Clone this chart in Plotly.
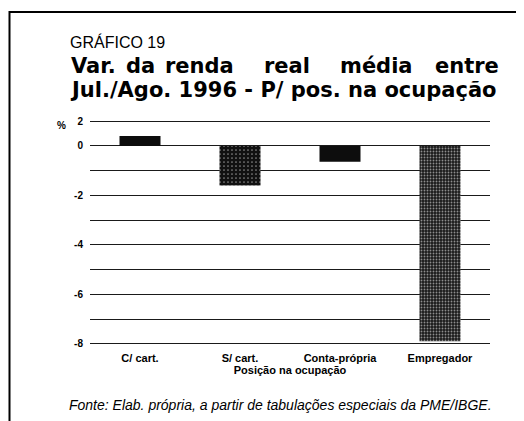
import plotly.graph_objects as go

# dados (var. % da renda real média, Jul./Ago. 1996)
categorias = ["C/ cart.", "S/ cart.", "Conta-própria", "Empregador"]
variacao = [0.4, -1.6, -0.64, -7.9]

tick_vals = [1, 0, -2, -4, -6, -8]
tick_text = ["2", "0", "-2", "-4", "-6", "-8"]
grade_menor = [-1, -3, -5, -7]

# a página tem 8px de margem no body: figura um pouco menor e deslocada
OFF = 8
W, H = 516, 413
L, R, T, B = 82, 34, 112, 76


def px(x):
    # x em pixels da tela -> coordenada paper
    return (x - OFF - L) / (W - L - R)


def py(y):
    return (H - B - (y - OFF)) / (H - T - B)


FONTE = "Liberation Sans, Arial, Helvetica"
FONTE_TIT = "DejaVu Sans, Liberation Sans, Arial"

fig = go.Figure()
fig.add_trace(go.Bar(
    x=categorias,
    y=variacao,
    width=0.41,
    marker=dict(
        color=["#0d0d0d", "#111111", "#0d0d0d", "#1a1a1a"],
        line=dict(width=0),
        pattern=dict(
            shape=["", ".", "", "."],
            fgcolor="#ffffff",
            size=[4, 4, 4, 3],
            solidity=[0.2, 0.15, 0.2, 0.3],
            fillmode="overlay",
        ),
    ),
    showlegend=False,
))

# título
fig.add_annotation(text="GRÁFICO 19", x=px(68), y=py(42.5), xref="paper", yref="paper",
                   xanchor="left", yanchor="middle", showarrow=False,
                   font=dict(family=FONTE, size=16, color="black"))
palavras = ["Var.", "da", "renda", "real", "média", "entre"]
pos_x = [69, 124, 163, 262, 338, 433]
for w, x0 in zip(palavras, pos_x):
    fig.add_annotation(text="<b>" + w + "</b>", x=px(x0), y=py(65.5), xref="paper", yref="paper",
                       xanchor="left", yanchor="middle", showarrow=False,
                       font=dict(family=FONTE_TIT, size=21, color="black"))
fig.add_annotation(text="<b>Jul./Ago. 1996 - P/ pos. na ocupação</b>", x=px(68), y=py(90.5),
                   xref="paper", yref="paper", xanchor="left", yanchor="middle", showarrow=False,
                   font=dict(family=FONTE_TIT, size=21, color="black"))

fig.add_annotation(text="<b>%</b>", x=px(61), y=py(126), xref="paper", yref="paper",
                   xanchor="center", yanchor="middle", showarrow=False,
                   font=dict(family=FONTE, size=10, color="black"))

fig.add_annotation(text="<i>Fonte: Elab. própria, a partir de tabulações especiais da PME/IBGE.</i>",
                   x=px(67), y=py(405), xref="paper", yref="paper",
                   xanchor="left", yanchor="middle", showarrow=False,
                   font=dict(family=FONTE, size=14, color="black"))

# moldura da página
fig.add_shape(type="line", xref="paper", yref="paper", x0=px(9), x1=px(530), y0=py(12), y1=py(12),
              line=dict(color="black", width=2))
fig.add_shape(type="line", xref="paper", yref="paper", x0=px(9.5), x1=px(9.5), y0=py(11), y1=py(430),
              line=dict(color="black", width=2))

fig.update_xaxes(
    showline=False, showgrid=False, ticks="", zeroline=False, ticklabelstandoff=5,
    tickfont=dict(family=FONTE, size=11, color="black", weight="bold"),
    title=dict(text="Posição na ocupação", standoff=2,
               font=dict(family=FONTE, size=11, color="black", weight="bold")),
)
fig.update_yaxes(
    range=[-8.05, 1.05],
    tickvals=tick_vals, ticktext=tick_text,
    showgrid=True, gridcolor="#1a1a1a", gridwidth=1,
    zeroline=True, zerolinecolor="#1a1a1a", zerolinewidth=1,
    showline=False, ticks="", ticklabelstandoff=6,
    minor=dict(tickvals=grade_menor, showgrid=True, gridcolor="#1a1a1a", gridwidth=1, ticks=""),
    tickfont=dict(family=FONTE, size=10, color="black", weight="bold"),
)

fig.update_layout(
    width=W, height=H,
    margin=dict(l=L, r=R, t=T, b=B),
    paper_bgcolor="white", plot_bgcolor="white",
    bargap=0.59,
)

fig.write_html("out.html")
